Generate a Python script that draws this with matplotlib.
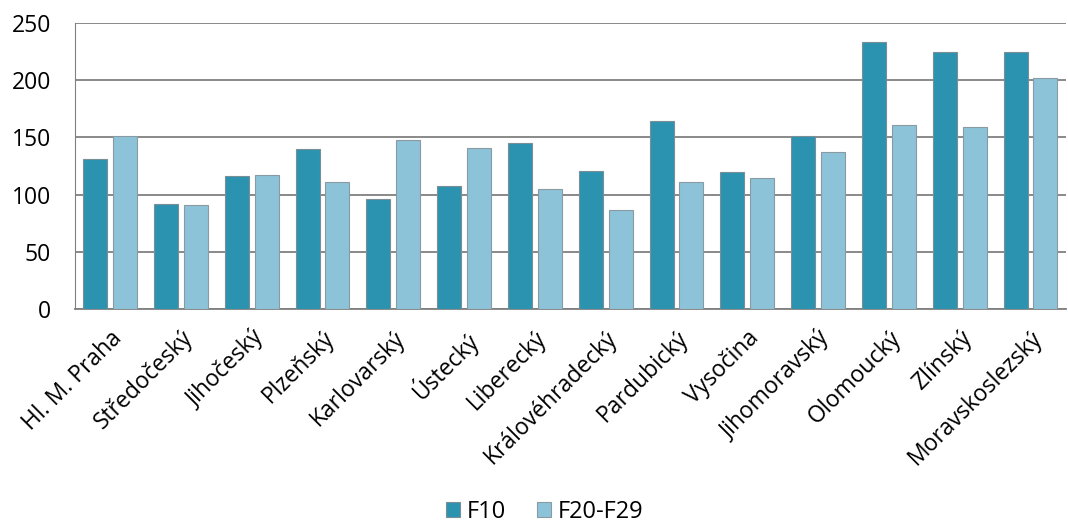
import numpy as np
import matplotlib.pyplot as plt

# data
kraje = ["Hl. M. Praha", "Středočeský", "Jihočeský", "Plzeňský", "Karlovarský",
         "Ústecký", "Liberecký", "Královéhradecký", "Pardubický", "Vysočina",
         "Jihomoravský", "Olomoucký", "Zlínský", "Moravskoslezský"]
f10 = [131, 92, 116, 140, 96, 108, 145, 121, 164, 120, 151, 233, 224, 224]
f20_f29 = [151, 91, 117, 111, 148, 141, 105, 87, 111, 115, 137, 161, 159, 202]

plt.rcParams['font.family'] = ['Open Sans', 'DejaVu Sans']

fig = plt.figure(figsize=(10.68, 5.25), dpi=100)
ax = fig.add_axes([0.070, 0.4105, 0.928, 0.5465])

x = np.arange(len(kraje))
w = 0.34
ax.bar(x - 0.21, f10, w, color='#2b93b0', edgecolor='#7a8e96', linewidth=0.8,
       label='F10', zorder=3)
ax.bar(x + 0.21, f20_f29, w, color='#8cc3d9', edgecolor='#8a9aa2', linewidth=0.8,
       label='F20-F29', zorder=3)

ax.set_xlim(-0.5, len(kraje) - 0.5)
ax.set_ylim(0, 250)
ax.set_yticks([0, 50, 100, 150, 200, 250])
ax.yaxis.grid(True, color='#808080', linewidth=1.3, zorder=0)
ax.set_axisbelow(True)

for s in ['top', 'right']:
    ax.spines[s].set_visible(False)
ax.spines['left'].set_color('#808080')
ax.spines['bottom'].set_color('#808080')
ax.spines['bottom'].set_linewidth(1.3)

ax.tick_params(axis='y', length=0, labelsize=16.5, pad=17)
ax.tick_params(axis='x', length=0, labelsize=16.5, pad=12)
ax.set_xticks(x)
ax.set_xticklabels(kraje, rotation=45, ha='right', rotation_mode='anchor')

# legend centred on the figure, at the bottom
handles, labels = ax.get_legend_handles_labels()
fig.legend(handles, labels, loc='center', bbox_to_anchor=(0.51, 0.025), ncol=2,
           frameon=False, fontsize=17, handlelength=0.6, handleheight=0.6,
           handletextpad=0.3, columnspacing=1.3, borderpad=0.1)

fig.savefig('out.png', dpi=100)
